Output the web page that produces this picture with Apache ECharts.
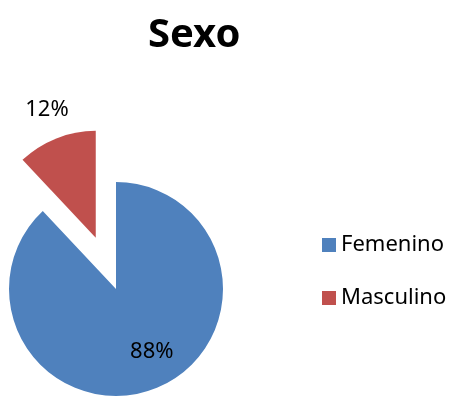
<!DOCTYPE html>
<html>
<head>
<meta charset="utf-8">
<script src="https://cdn.jsdelivr.net/npm/echarts@6/dist/echarts.min.js"></script>
<style>
  html, body { margin: 0; padding: 0; background: #fff; }
  #chart { width: 456px; height: 401px; }
</style>
</head>
<body>
<div id="chart"></div>
<script>
// data
const categories = ["Femenino", "Masculino"];
const values = [88, 12];
const colors = ["#4F81BD", "#C0504D"];
const labelOffsets = [[15, 10], [-28, -76]];

const chart = echarts.init(document.getElementById("chart"));

const pieData = categories.map((name, i) => ({
  name: name,
  value: values[i],
  selected: i === 1,
  itemStyle: { color: colors[i] },
  label: { offset: labelOffsets[i] },
  select: { label: { offset: labelOffsets[i] } }
}));

chart.setOption({
  animation: false,
  title: {
    text: "Sexo",
    left: 143,
    top: 11,
    textStyle: { fontFamily: "Noto Sans", fontWeight: "bold", fontSize: 40, color: "#000" }
  },
  legend: {
    orient: "vertical",
    left: 317,
    top: 229,
    itemWidth: 14,
    itemHeight: 14,
    itemGap: 31,
    icon: "rect",
    data: categories,
    selectedMode: false,
    textStyle: { fontFamily: "Noto Sans", fontSize: 22, color: "#000" }
  },
  series: [{
    type: "pie",
    center: [116, 289],
    radius: 107,
    startAngle: 90,
    selectedMode: "single",
    selectedOffset: 55,
    silent: true,
    label: {
      show: true,
      position: "inside",
      formatter: "{d}%",
      fontFamily: "Noto Sans",
      fontSize: 22,
      color: "#000"
    },
    labelLine: { show: false },
    data: pieData
  }]
});
</script>
</body>
</html>
